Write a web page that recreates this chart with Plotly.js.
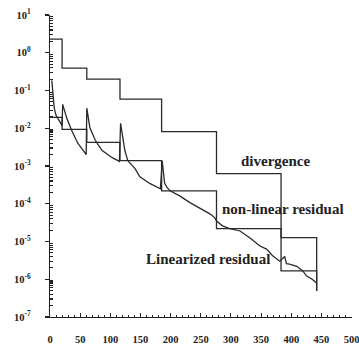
<!DOCTYPE html>
<html>
<head>
<meta charset="utf-8">
<script src="https://cdn.plot.ly/plotly-3.0.1.min.js"></script>
<style>html,body{margin:0;padding:0;background:#fff;}#chart{width:359px;height:356px;}</style>
</head>
<body>
<div id="chart"></div>
<script>
// Outer-iteration step series
var stepX = [0, 20, 61, 116, 185, 276, 383, 442];
var divergence = [2.3, 0.39, 0.20, 0.059, 0.0081, 6.3e-4, 1.26e-5, 4.9e-7];
var nonlinearResidual = [1.95e-2, 9.3e-3, 4.2e-3, 1.38e-3, 2.2e-4, 2.2e-5, 1.66e-6, 4.9e-7];

// Linearized residual (inner iterations)
var linX = [3, 5, 7, 10, 12, 15, 20,
  21, 28, 36, 46, 55, 60,
  61, 66, 75, 86, 103, 115,
  117, 124, 129, 141, 149, 166, 183,
  186, 190, 194, 199, 215, 232, 248, 265, 273, 276, 286, 298, 315, 331, 348, 359, 369, 381,
  389, 392, 397, 409, 419, 425, 434, 442];
var linearizedResidual = [0.186, 0.074, 0.034, 0.022, 0.0195, 0.0162, 0.0117,
  0.043, 0.018, 8.7e-3, 4.0e-3, 2.6e-3, 2.0e-3,
  0.034, 0.0105, 4.8e-3, 2.6e-3, 1.66e-3, 1.32e-3,
  0.0135, 2.6e-3, 1.38e-3, 8.5e-4, 5.2e-4, 3.4e-4, 2.5e-4,
  1.38e-3, 3.5e-4, 2.7e-4, 2.2e-4, 1.62e-4, 1.07e-4, 7.8e-5, 5.4e-5, 4.3e-5, 3.5e-5, 2.6e-5, 2.2e-5, 1.9e-5, 1.26e-5, 7.6e-6, 6.3e-6, 4.2e-6, 3.0e-6,
  4.0e-6, 2.6e-6, 2.5e-6, 2.2e-6, 1.66e-6, 1.23e-6, 1.02e-6, 7.9e-7];

var yTickVals = [1e1, 1e0, 1e-1, 1e-2, 1e-3, 1e-4, 1e-5, 1e-6, 1e-7];
var yTickText = ['10<sup>1</sup>', '10<sup>0</sup>', '10<sup>-1</sup>', '10<sup>-2</sup>', '10<sup>-3</sup>',
  '10<sup>-4</sup>', '10<sup>-5</sup>', '10<sup>-6</sup>', '10<sup>-7</sup>'];
var xTickVals = [0, 50, 100, 150, 200, 250, 300, 350, 400, 450, 500];
var yMinorVals = [];
yTickVals.slice(1).forEach(function (d) {
  for (var k = 2; k <= 9; k++) yMinorVals.push(k * d);
});
var seriesLabels = ['divergence', 'non-linear residual', 'Linearized residual'];

var lineStyle = {color: '#2a2a2a', width: 1.3};
var traces = [
  {x: stepX, y: divergence, mode: 'lines', line: Object.assign({shape: 'hv'}, lineStyle), name: seriesLabels[0]},
  {x: stepX, y: nonlinearResidual, mode: 'lines', line: Object.assign({shape: 'hv'}, lineStyle), name: seriesLabels[1]},
  {x: linX, y: linearizedResidual, mode: 'lines', line: lineStyle, name: seriesLabels[2]}
];

var tickFont = {family: 'Liberation Serif', size: 10.5, color: '#222', weight: 'bold'};
var labelFont = {family: 'Liberation Serif', size: 15, color: '#222', weight: 'bold'};

var layout = {
  width: 359, height: 356,
  margin: {l: 50, r: 7, t: 15, b: 39},
  paper_bgcolor: '#fff', plot_bgcolor: '#fff',
  showlegend: false,
  xaxis: {
    range: [0, 500.6], showgrid: false, zeroline: false,
    showline: true, linecolor: '#222', linewidth: 1.3,
    ticks: 'inside', ticklen: 4, tickwidth: 1, tickcolor: '#222',
    tickmode: 'array', tickvals: xTickVals, ticktext: xTickVals.map(String),
    minor: {ticks: 'inside', ticklen: 2, dtick: 10, tickcolor: '#222', showgrid: false},
    tickfont: tickFont, ticklabelstandoff: 12, ticklabeloverflow: 'allow'
  },
  yaxis: {
    type: 'log', range: [-7, 1], showgrid: false, zeroline: false,
    showline: true, linecolor: '#222', linewidth: 1.3,
    ticks: 'outside', ticklen: 4, tickwidth: 1.2, tickcolor: '#222',
    tickvals: yTickVals, ticktext: yTickText,
    minor: {ticks: 'inside', ticklen: 3, tickcolor: '#222', showgrid: false, tickmode: 'array', tickvals: yMinorVals},
    tickfont: tickFont, ticklabelstandoff: 12
  },
  annotations: [
    {x: 374, y: -2.88, xref: 'x', yref: 'y', text: seriesLabels[0], showarrow: false, font: labelFont},
    {x: 386, y: -4.13, xref: 'x', yref: 'y', text: seriesLabels[1], showarrow: false, font: labelFont},
    {x: 262, y: -5.46, xref: 'x', yref: 'y', text: seriesLabels[2], showarrow: false, font: labelFont}
  ]
};

Plotly.newPlot('chart', traces, layout, {staticPlot: true, displayModeBar: false});
</script>
</body>
</html>
